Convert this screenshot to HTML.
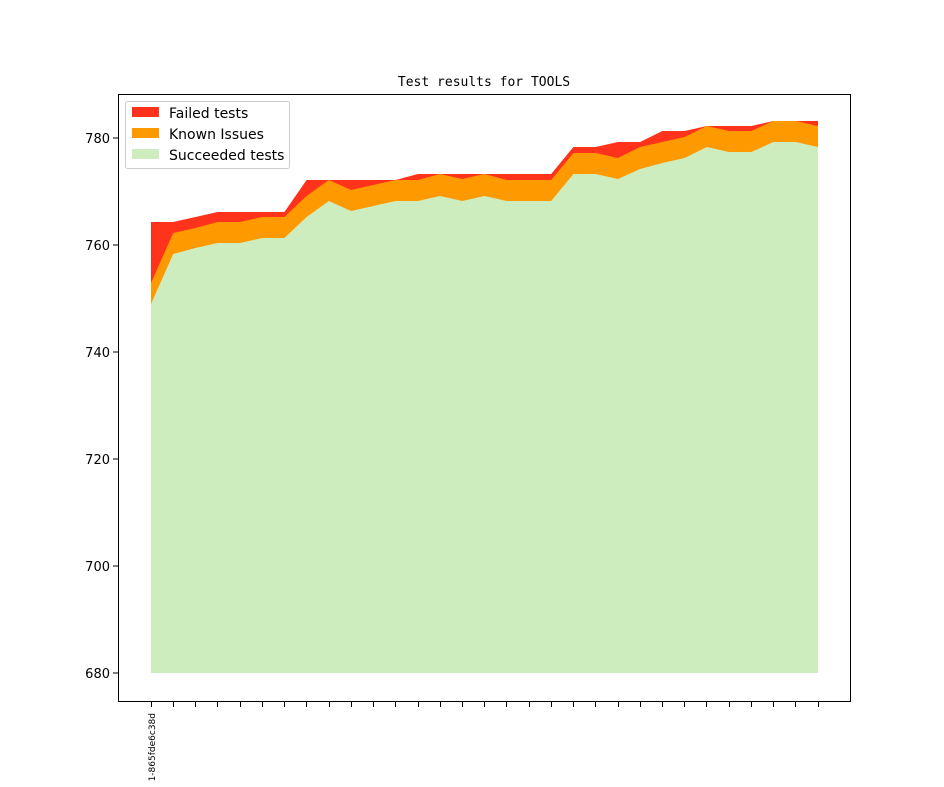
<!DOCTYPE html>
<html><head><meta charset="utf-8"><style>html,body{margin:0;background:#fff;width:944px;height:787px;overflow:hidden}svg{display:block}</style></head>
<body>
<svg width="944" height="787" xmlns="http://www.w3.org/2000/svg" font-family="'DejaVu Sans', 'Liberation Sans', sans-serif" overflow="hidden">
<rect width="944" height="787" fill="#fff"/>
<polygon fill="#ff331c" points="151,222 173.2,222 195.5,217 217.7,212 239.9,212 262.2,212 284.4,212 306.6,180 328.9,180 351.1,180 373.3,180 395.6,180 417.8,174 440,174 462.3,174 484.5,174 506.7,174 529,174 551.2,174 573.4,147 595.7,147 617.9,142 640.1,142 662.4,131 684.6,131 706.8,126 729,126 751.3,126 773.5,121 795.8,121 818,121 818,673 151,673"/>
<polygon fill="#ff9900" points="151,283 173.2,233 195.5,228 217.7,222 239.9,222 262.2,217 284.4,217 306.6,196 328.9,180 351.1,190 373.3,185 395.6,180 417.8,180 440,174 462.3,179 484.5,174 506.7,180 529,180 551.2,180 573.4,153 595.7,153 617.9,158 640.1,147 662.4,142 684.6,137 706.8,126 729,131 751.3,131 773.5,121 795.8,121 818,126 818,673 151,673"/>
<polygon fill="#ceedbe" points="151,304 173.2,254 195.5,248 217.7,243 239.9,243 262.2,238 284.4,238 306.6,217 328.9,201 351.1,211 373.3,206 395.6,201 417.8,201 440,196 462.3,201 484.5,196 506.7,201 529,201 551.2,201 573.4,174 595.7,174 617.9,179 640.1,169 662.4,163 684.6,158 706.8,147 729,152 751.3,152 773.5,142 795.8,142 818,147 818,673 151,673"/>
<rect x="118.5" y="94.5" width="732" height="607" fill="none" stroke="#000" stroke-width="1"/>
<g font-size="13" text-anchor="end" fill="#000" stroke-width="1">
<line x1="113" x2="118" y1="138" y2="138" stroke="#000"/><text x="110" y="143">780</text>
<line x1="113" x2="118" y1="245" y2="245" stroke="#000"/><text x="110" y="250">760</text>
<line x1="113" x2="118" y1="352" y2="352" stroke="#000"/><text x="110" y="357">740</text>
<line x1="113" x2="118" y1="459" y2="459" stroke="#000"/><text x="110" y="464">720</text>
<line x1="113" x2="118" y1="566" y2="566" stroke="#000"/><text x="110" y="571">700</text>
<line x1="113" x2="118" y1="673" y2="673" stroke="#000"/><text x="110" y="678">680</text>
</g>
<path stroke="#000" stroke-width="1" d="M151.5,702v5M173.5,702v5M195.5,702v5M217.5,702v5M240.5,702v5M262.5,702v5M284.5,702v5M306.5,702v5M329.5,702v5M351.5,702v5M373.5,702v5M395.5,702v5M418.5,702v5M440.5,702v5M462.5,702v5M484.5,702v5M506.5,702v5M529.5,702v5M551.5,702v5M573.5,702v5M595.5,702v5M618.5,702v5M640.5,702v5M662.5,702v5M684.5,702v5M706.5,702v5M729.5,702v5M751.5,702v5M773.5,702v5M795.5,702v5M818.5,702v5"/>
<text x="484" y="86" font-family="'DejaVu Sans Mono','Liberation Mono',monospace" font-size="13" text-anchor="middle">Test results for TOOLS</text>
<text transform="translate(155,713) rotate(-90)" font-size="9" text-anchor="end">1-865fde6c38d</text>
<rect x="125.5" y="101.5" width="164" height="67" fill="#fff" fill-opacity="0.8" stroke="#ccc" rx="2"/>
<rect x="132" y="107" width="27" height="10" fill="#ff331c"/>
<rect x="132" y="128" width="27" height="10" fill="#ff9900"/>
<rect x="132" y="149" width="27" height="10" fill="#ceedbe"/>
<g font-size="14"><text x="169" y="118">Failed tests</text><text x="169" y="139">Known Issues</text><text x="169" y="160">Succeeded tests</text></g>
</svg>
</body></html>
